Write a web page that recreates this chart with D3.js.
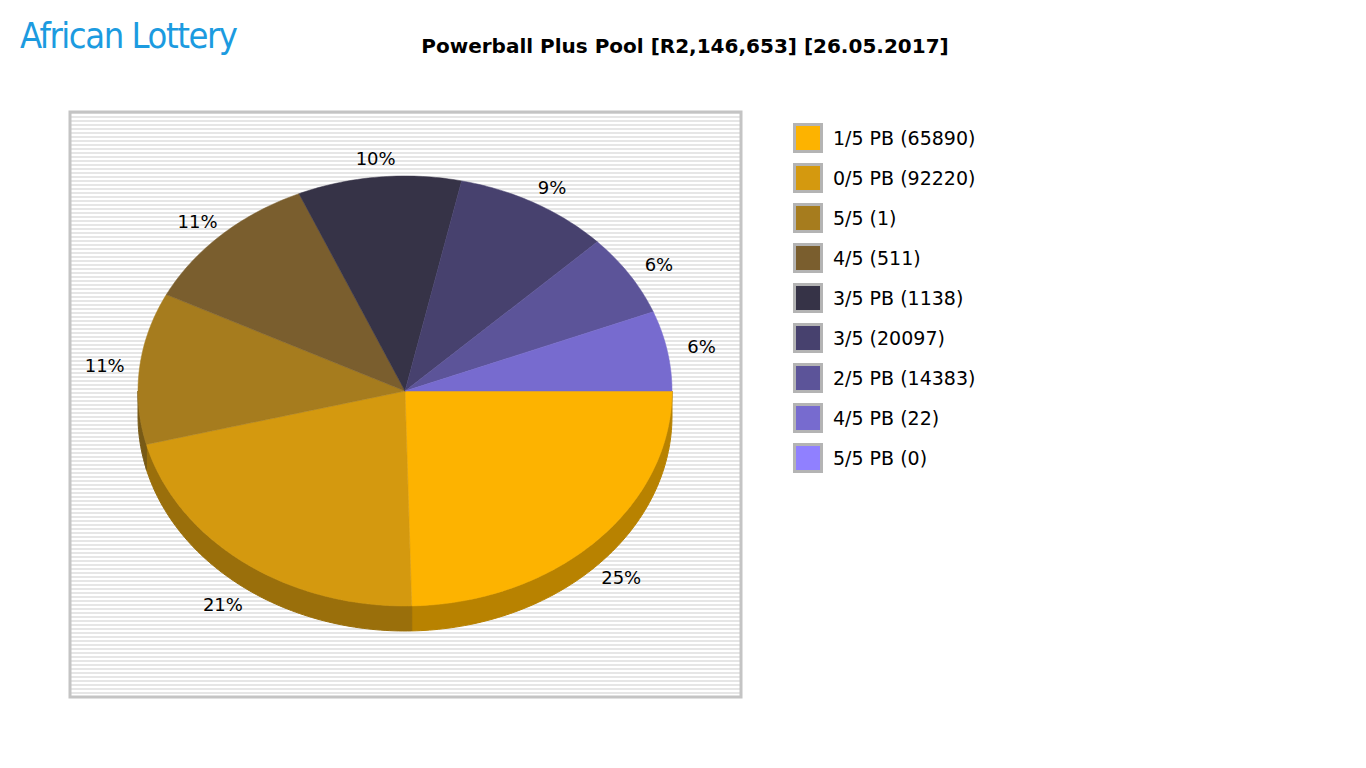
<!DOCTYPE html>
<html><head><meta charset="utf-8">
<script src="https://cdn.jsdelivr.net/npm/d3@7"></script>
<style>body{margin:0;background:#fff}text{font-family:"DejaVu Sans",sans-serif}</style>
</head><body>
<svg id="chart" width="1366" height="768"></svg>
<script>
var labels = ["1/5 PB (65890)","0/5 PB (92220)","5/5 (1)","4/5 (511)","3/5 PB (1138)","3/5 (20097)","2/5 PB (14383)","4/5 PB (22)","5/5 PB (0)"];
var shares = [24.6, 21.4, 11.4, 11.1, 9.9, 9.4, 6.2, 6.0, 0];
var colors = ["#fdb300","#d4990f","#a67c1e","#7a5e2e","#363347","#47416e","#5c5499","#776bcf","#9080ff"];

var svg = d3.select("#chart");
// logo
svg.append("text").attr("x",20).attr("y",48).attr("fill","#1c9be0")
  .style("font-family","'DejaVu Sans Condensed',sans-serif").style("font-size","36px")
  .attr("textLength",218).text("African Lottery");

svg.append("text").attr("x",685).attr("y",53).attr("text-anchor","middle")
  .style("font-weight","bold").style("font-size","20px")
  .text("Powerball Plus Pool [R2,146,653] [26.05.2017]");

// plot frame with stripes
var fx=70, fy=112, fw=671, fh=585;
var defs = svg.append("defs");
var pat = defs.append("pattern").attr("id","stripes").attr("width",4).attr("height",4).attr("patternUnits","userSpaceOnUse");
pat.append("rect").attr("width",4).attr("height",4).attr("fill","#ffffff");
pat.append("rect").attr("width",4).attr("height",2).attr("fill","#e6e6e6");
svg.append("rect").attr("x",fx).attr("y",fy).attr("width",fw).attr("height",fh)
  .attr("fill","url(#stripes)").attr("stroke","#c4c4c4").attr("stroke-width",3);

var cx=405, cy=391, rx=267, ry=215, depth=25;
var total = d3.sum(shares);
var ang = d3.scaleLinear().domain([0,total]).range([0,2*Math.PI]);
var cum = d3.cumsum(shares);
var slices = shares.map(function(v,i){ return {i:i, a0:ang(cum[i]-v), a1:ang(cum[i])}; }).filter(function(d){return d.a1>d.a0;});
function pt(a,dy){ return [cx+rx*Math.cos(a), cy+ry*Math.sin(a)+(dy||0)]; }
function arcPts(a0,a1,dy){ var n=Math.max(2,Math.ceil((a1-a0)*60)); return d3.range(n+1).map(function(k){return pt(a0+(a1-a0)*k/n,dy);}); }
var line = d3.line();

// side walls (visible lower half)
slices.forEach(function(d){
  var s=Math.max(d.a0,0), e=Math.min(d.a1,Math.PI);
  if(e<=s) return;
  var top=arcPts(s,e,0), bot=arcPts(s,e,depth).reverse();
  svg.append("path").attr("d",line(top.concat(bot))+"Z")
    .attr("fill",d3.color(colors[d.i]).darker(0.9)).attr("stroke",d3.color(colors[d.i]).darker(0.9));
});
// top faces
slices.forEach(function(d){
  svg.append("path").attr("d",line([[cx,cy]].concat(arcPts(d.a0,d.a1,0)))+"Z")
    .attr("fill",colors[d.i]).attr("stroke",colors[d.i]).attr("stroke-width",0.5);
});
// labels
slices.forEach(function(d){
  var m=(d.a0+d.a1)/2, s=Math.sin(m);
  var x=cx+(rx+35)*Math.cos(m), y=cy+(s>0?(ry+28+depth)*s:(ry+18)*s)+6;
  svg.append("text").attr("x",x).attr("y",y).attr("text-anchor","middle").style("font-size","18px")
    .text(Math.round(shares[d.i]/total*100)+"%");
});

// legend
var lg = svg.selectAll(".lg").data(labels).enter().append("g")
  .attr("transform",function(d,i){return "translate(793,"+(123+i*40)+")";});
lg.append("rect").attr("x",1.5).attr("y",1.5).attr("width",27).attr("height",27)
  .attr("fill",function(d,i){return colors[i];}).attr("stroke","#b4b4b4").attr("stroke-width",3);
lg.append("text").attr("x",40).attr("y",22).style("font-size","19px").text(function(d){return d;});
</script>
</body></html>
